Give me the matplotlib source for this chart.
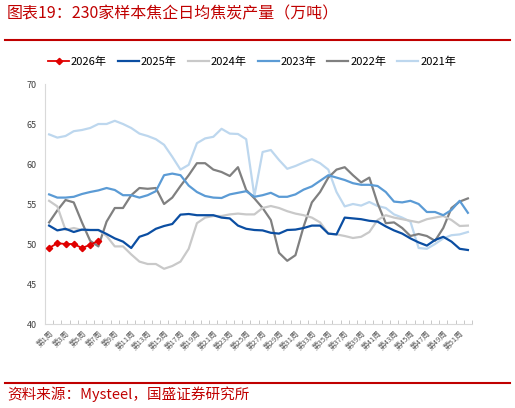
import matplotlib
matplotlib.use('Agg')
import numpy as np
from matplotlib import pyplot as plt
from matplotlib.lines import Line2D

plt.rcParams['font.family'] = ['Noto Sans CJK SC', 'DejaVu Sans']

weeks = ['第%d周' % i for i in range(1, 53)]

y2026 = [49.5, 50.1, 50.0, 50.0, 49.5, 49.9, 50.4]
y2025 = [52.3, 51.7, 51.9, 51.5, 51.8, 51.75, 51.75, 51.25, 50.7, 50.3,
         49.5, 50.9, 51.25, 51.9, 52.25, 52.5, 53.67, 53.75, 53.6, 53.6,
         53.6, 53.3, 53.2, 52.3, 51.9, 51.75, 51.7, 51.4, 51.3, 51.75,
         51.8, 52.0, 52.3, 52.3, 51.3, 51.2, 53.3, 53.2, 53.1, 52.9,
         52.8, 52.2, 51.7, 51.3, 50.7, 50.2, 49.8, 50.5, 50.9, 50.3,
         49.4, 49.25]
y2024 = [55.4, 54.7, 51.75, 52.0, 51.75, 51.75, 51.75, 51.0, 49.7, 49.7,
         48.7, 47.8, 47.5, 47.5, 46.9, 47.25, 47.8, 49.4, 52.6, 53.3,
         53.5, 53.5, 53.7, 53.8, 53.7, 53.7, 54.5, 54.75, 54.5, 54.1,
         53.8, 53.6, 53.3, 52.7, 51.3, 51.2, 51.0, 50.75, 50.9, 51.5,
         53.0, 53.6, 53.3, 53.1, 52.9, 52.7, 53.1, 53.3, 53.5, 53.0,
         52.25, 52.3]
y2023 = [56.2, 55.8, 55.8, 55.9, 56.25, 56.5, 56.7, 57.0, 56.75, 56.1,
         56.1, 55.8, 56.1, 56.6, 58.6, 58.8, 58.6, 57.3, 56.5, 56.0,
         55.8, 55.75, 56.2, 56.4, 56.6, 55.9, 56.1, 56.4, 55.9, 55.9,
         56.2, 56.8, 57.2, 57.9, 58.6, 58.3, 58.0, 57.6, 57.4, 57.4,
         57.25, 56.5, 55.3, 55.2, 55.4, 55.0, 54.0, 54.0, 53.6, 54.25,
         55.4, 53.9]
y2022 = [52.7, 54.2, 55.5, 55.2, 52.7, 50.4, 49.7, 52.8, 54.5, 54.5,
         56.1, 57.0, 56.9, 57.0, 55.0, 55.8, 57.25, 58.6, 60.1, 60.1,
         59.3, 59.0, 58.5, 59.6, 56.75, 55.7, 54.5, 53.0, 48.9, 47.9,
         48.6, 52.2, 55.2, 56.5, 58.3, 59.3, 59.6, 58.6, 57.7, 58.3,
         55.1, 52.6, 52.7, 52.0, 51.0, 51.25, 51.0, 50.4, 52.0, 54.5,
         55.3, 55.7]
y2021 = [63.7, 63.3, 63.5, 64.1, 64.25, 64.5, 65.0, 65.0, 65.4, 65.0,
         64.5, 63.8, 63.5, 63.1, 62.4, 60.9, 59.3, 59.9, 62.6, 63.2,
         63.4, 64.4, 63.8, 63.75, 63.1, 56.0, 61.5, 61.75, 60.5, 59.4,
         59.75, 60.2, 60.6, 60.1, 59.3, 56.5, 54.7, 55.0, 54.8, 55.25,
         54.75, 54.5, 53.7, 53.3, 52.8, 49.5, 49.4, 50.0, 50.7, 51.1,
         51.2, 51.5]

red = '#C00000'
fig = plt.figure(figsize=(5.15, 4.08), dpi=100)
ax = fig.add_axes([45/515, 1-324/408, 427/515, 240/408])

x = np.arange(1, 53)
ax.plot(x, y2021, color='#BDD7EE', lw=1.6, label='2021年', zorder=1)
ax.plot(x, y2022, color='#808080', lw=1.6, label='2022年', zorder=2)
ax.plot(x, y2023, color='#5B9BD5', lw=1.6, label='2023年', zorder=3)
ax.plot(x, y2024, color='#C9C9C9', lw=1.6, label='2024年', zorder=2)
ax.plot(x, y2025, color='#0B4EA2', lw=1.6, label='2025年', zorder=4)
ax.plot(x[:len(y2026)], y2026, color='#E00000', lw=1.3, marker='D', ms=3.2,
        label='2026年', zorder=5)

ax.set_xlim(0.5, 52.5)
ax.set_ylim(40, 70)
ax.set_yticks(range(40, 71, 5))
ax.set_xticks(x)
ax.set_xticklabels([w if i % 2 == 0 else '' for i, w in enumerate(weeks)],
                   rotation=45, ha='right', rotation_mode='anchor', fontsize=5.5,
                   color='#595959')
ax.set_xticks(np.arange(0.5, 53, 1), minor=True)
ax.tick_params(axis='x', which='major', length=0, pad=4)
ax.tick_params(axis='x', which='minor', length=3, color='#BFBFBF', direction='in')
ax.tick_params(axis='y', length=0, labelsize=6.5, labelcolor='#404040', pad=6)
for s in ['top', 'right']:
    ax.spines[s].set_visible(False)
ax.spines['left'].set_color('#D9D9D9')
ax.spines['bottom'].set_color('#D9D9D9')

handles, labels = ax.get_legend_handles_labels()
order = [5, 4, 3, 2, 1, 0]
fig.legend([handles[i] for i in order], [labels[i] for i in order],
           loc='center', bbox_to_anchor=(252/515, 1-62/408), ncol=6, frameon=False,
           fontsize=8, handlelength=1.9, handletextpad=0.15, columnspacing=1.0)

fig.text(7/515, 1-14/408, '图表19：230家样本焦企日均焦炭产量（万吨）', color=red,
         fontsize=11.5, style='italic', va='center')
fig.add_artist(Line2D([5/515, 510/515], [1-40/408, 1-40/408], color=red, lw=1.5))
fig.add_artist(Line2D([5/515, 510/515], [1-383/408, 1-383/408], color=red, lw=1.5))
fig.text(7/515, 1-394/408, '资料来源：Mysteel，国盛证券研究所', color=red,
         fontsize=10.5, style='italic', va='center')

plt.savefig('out.png', dpi=100)
